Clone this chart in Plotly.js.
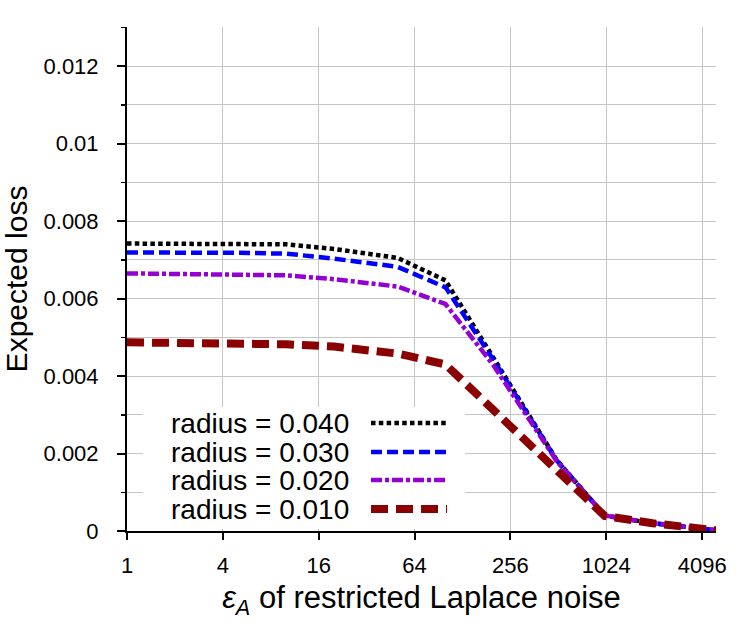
<!DOCTYPE html>
<html>
<head>
<meta charset="utf-8">
<script src="https://cdn.plot.ly/plotly-3.0.1.min.js"></script>
<style>
  html, body { margin: 0; padding: 0; background: #fff; }
  #chart { width: 750px; height: 630px; }
</style>
</head>
<body>
<div id="chart"></div>
<script>
// epsilon_A values of the restricted Laplace noise
const eps = [1, 2, 5, 10, 20, 50, 100, 200, 500, 1000, 2000, 5000];

// expected loss per radius
const loss040 = [0.00742, 0.00742, 0.00741, 0.00740, 0.00728, 0.00705, 0.00647, 0.00448, 0.00183, 0.00040, 0.00020, 0.00002];
const loss030 = [0.00719, 0.00719, 0.00718, 0.00716, 0.00703, 0.00682, 0.00629, 0.00442, 0.00182, 0.00040, 0.00020, 0.00002];
const loss020 = [0.00665, 0.00664, 0.00663, 0.00660, 0.00650, 0.00631, 0.00586, 0.00428, 0.00180, 0.00040, 0.00020, 0.00002];
const loss010 = [0.00487, 0.00487, 0.00487, 0.00482, 0.00476, 0.00458, 0.00430, 0.00313, 0.00157, 0.00039, 0.00020, 0.00002];

const seriesNames = ["radius = 0.040", "radius = 0.030", "radius = 0.020", "radius = 0.010"];
const seriesData = [loss040, loss030, loss020, loss010];

const xTicks = [1, 4, 16, 64, 256, 1024, 4096];
const xTickText = ["1", "4", "16", "64", "256", "1024", "4096"];
const yTicks = [0, 0.002, 0.004, 0.006, 0.008, 0.01, 0.012];
const yTickText = ["0", "0.002", "0.004", "0.006", "0.008", "0.01", "0.012"];

// line styles: colour, width, dash pattern
const styles = [
  { color: "#000000", width: 4.5, dash: "4.5px,3.3px" },
  { color: "#0000ff", width: 4.5, dash: "11px,5px" },
  { color: "#9400d3", width: 4.5, dash: "11px,3px,4px,3px" },
  { color: "#8b0000", width: 8,   dash: "17px,8px" }
];

const FONT = "Liberation Sans, Arial, Helvetica, sans-serif";
const GRID = "#c6c6c6";

const traces = seriesData.map((ys, i) => ({
  type: "scatter",
  mode: "lines",
  x: eps,
  y: ys,
  name: seriesNames[i],
  line: { color: styles[i].color, width: styles[i].width, dash: styles[i].dash },
  showlegend: false,
  hoverinfo: "skip"
}));

// key box in the lower left of the plot: text on the left, line sample on the right
const keyRowsY = [0.2143, 0.1567, 0.1012, 0.0437];
const shapes = [{
  type: "rect", xref: "paper", yref: "paper",
  x0: 0.0272, x1: 0.574, y0: 0.004, y1: 0.246,
  fillcolor: "#ffffff", line: { width: 0 }, layer: "above"
}];
const annotations = [];
seriesNames.forEach((name, i) => {
  shapes.push({
    type: "line", xref: "paper", yref: "paper",
    x0: 0.4143, x1: 0.5433, y0: keyRowsY[i], y1: keyRowsY[i],
    line: { color: styles[i].color, width: styles[i].width, dash: styles[i].dash },
    layer: "above"
  });
  annotations.push({
    xref: "paper", yref: "paper",
    x: 0.3786, y: keyRowsY[i],
    xanchor: "right", yanchor: "middle",
    height: 28,
    borderpad: 0,
    text: name, showarrow: false,
    font: { family: FONT, size: 28, color: "#000" }
  });
});

const layout = {
  width: 750,
  height: 630,
  margin: { l: 127, r: 34, t: 27, b: 99 },
  paper_bgcolor: "#ffffff",
  plot_bgcolor: "#ffffff",
  font: { family: FONT, color: "#000" },
  showlegend: false,
  xaxis: {
    type: "log",
    range: [0, Math.log10(5000)],
    tickvals: xTicks,
    ticktext: xTickText,
    ticks: "outside",
    ticklen: 7,
    tickwidth: 2,
    tickcolor: "#000",
    ticklabelstandoff: 7,
    tickfont: { family: FONT, size: 22, color: "#000" },
    showgrid: true,
    gridcolor: GRID,
    gridwidth: 1,
    showline: true,
    linecolor: "#000",
    linewidth: 2,
    zeroline: false,
    title: {
      text: "<i>ε<sub>A</sub></i> of restricted Laplace noise",
      font: { family: FONT, size: 31, color: "#000" },
      standoff: 9
    }
  },
  yaxis: {
    range: [0, 0.01301],
    tickvals: yTicks,
    ticktext: yTickText,
    ticks: "outside",
    ticklen: 8,
    tickwidth: 2,
    tickcolor: "#000",
    ticklabelstandoff: 14,
    tickfont: { family: FONT, size: 22, color: "#000" },
    showgrid: true,
    gridcolor: GRID,
    gridwidth: 1,
    minor: {
      dtick: 0.001,
      ticks: "outside",
      ticklen: 4,
      tickwidth: 1.5,
      tickcolor: "#000",
      showgrid: true,
      gridcolor: GRID,
      gridwidth: 1
    },
    showline: true,
    linecolor: "#000",
    linewidth: 2,
    zeroline: false,
    title: {
      text: "Expected loss",
      font: { family: FONT, size: 30, color: "#000" },
      standoff: 12
    }
  },
  shapes: shapes,
  annotations: annotations
};

Plotly.newPlot("chart", traces, layout, { staticPlot: true, displayModeBar: false });
</script>
</body>
</html>
